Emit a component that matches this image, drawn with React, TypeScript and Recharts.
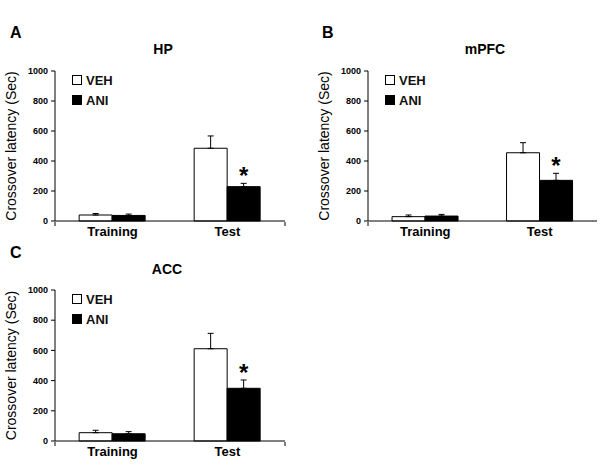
import { BarChart, Bar, XAxis, YAxis, ErrorBar, Legend, LabelList } from "recharts"

// values (sec), mean and upper SEM
const categories = ["Training", "Test"]
const significance = ["", "*"]
const yTicks = [0, 200, 400, 600, 800, 1000]
const seriesOrder = ["VEH", "ANI"]

const hpVeh = [40, 485]
const hpVehSem = [10, 82]
const hpAni = [37, 229]
const hpAniSem = [9, 22]

const mpfcVeh = [29, 455]
const mpfcVehSem = [11, 67]
const mpfcAni = [33, 271]
const mpfcAniSem = [11, 47]

const accVeh = [55, 611]
const accVehSem = [16, 102]
const accAni = [48, 349]
const accAniSem = [14, 55]

const font = '"Liberation Sans", Arial, sans-serif'

function buildRows(veh: number[], vehSem: number[], ani: number[], aniSem: number[]) {
  return categories.map((name, i) => ({
    name,
    veh: veh[i],
    ani: ani[i],
    vehErr: [0, vehSem[i]],
    aniErr: [0, aniSem[i]],
    sig: significance[i],
  }))
}

function LegendBox({ payload }: any) {
  const items = [...(payload || [])].sort(
    (a: any, b: any) => seriesOrder.indexOf(a.value) - seriesOrder.indexOf(b.value)
  )
  return (
    <div style={{ fontFamily: font }}>
      {items.map((p: any) => (
        <div key={p.value} style={{ display: "flex", alignItems: "center", height: 20 }}>
          <span
            style={{
              width: 8,
              height: 8,
              background: p.color,
              border: "1px solid #000",
              marginRight: 4,
            }}
          />
          <span style={{ fontSize: 13, fontWeight: "bold", color: "#111" }}>{p.value}</span>
        </div>
      ))}
    </div>
  )
}

function Panel(props: {
  letter: string
  title: string
  veh: number[]
  vehSem: number[]
  ani: number[]
  aniSem: number[]
  left: number
  top: number
  width: number
  marginTop: number
  marginRight: number
  letterLeft: number
  titleCenter: number
}) {
  const { letter, title, veh, vehSem, ani, aniSem, left, top, width, marginTop, marginRight, letterLeft, titleCenter } = props
  const rows = buildRows(veh, vehSem, ani, aniSem)

  const star = (p: any) => {
    const { x, y, width: w, height: h, value, index } = p
    if (!value) return null
    const errTop = y - (aniSem[index] * h) / ani[index]
    return (
      <text
        x={x + w / 2}
        y={errTop + 1}
        textAnchor="middle"
        fontSize={24}
        fontWeight="bold"
        fontFamily={font}
        fill="#000"
      >
        {value}
      </text>
    )
  }

  return (
    <div style={{ position: "absolute", left, top, width, height: 240 }}>
      <div
        style={{
          position: "absolute",
          left: titleCenter - 60,
          width: 120,
          top: 41,
          textAlign: "center",
          fontSize: 14,
          fontWeight: "bold",
          fontFamily: font,
        }}
      >
        {title}
      </div>
      <div
        style={{
          position: "absolute",
          left: letterLeft,
          top: 24,
          fontSize: 16,
          fontWeight: "bold",
          fontFamily: font,
        }}
      >
        {letter}
      </div>
      <BarChart
        width={width}
        height={240}
        data={rows}
        margin={{ top: marginTop, right: marginRight, bottom: 17, left: 0 }}
        barCategoryGap="21%"
        barGap={0}
      >
        <XAxis
          dataKey="name"
          height={1}
          tickLine={false}
          axisLine={{ stroke: "#000" }}
          tickSize={5}
          tickMargin={1}
          tick={{ fill: "#000", fontSize: 13, fontWeight: "bold", fontFamily: font }}
        />
        <XAxis
          xAxisId="edges"
          type="number"
          domain={[0, 2]}
          ticks={[0, 1, 2]}
          height={1}
          axisLine={false}
          tickLine={{ stroke: "#000" }}
          tickSize={4}
          tickFormatter={() => ""}
        />
        <YAxis
          width={55}
          domain={[0, 1000]}
          ticks={yTicks}
          interval={0}
          axisLine={{ stroke: "#000" }}
          tickLine={{ stroke: "#000" }}
          tickSize={4}
          tickMargin={3}
          tick={{ fill: "#000", fontSize: 9, fontWeight: "bold", fontFamily: font }}
          label={{
            value: "Crossover latency (Sec)",
            angle: -90,
            position: "insideLeft",
            offset: 11,
            textAnchor: "middle",
            style: { textAnchor: "middle", fontSize: 14, fontFamily: font, fill: "#000" },
          }}
        />
        <Legend
          layout="vertical"
          align="center"
          verticalAlign="middle"
          wrapperStyle={{ left: 72, top: marginTop - 1, width: 80 }}
          content={<LegendBox />}
        />
        <Bar dataKey="veh" name="VEH" fill="#fff" stroke="#000" strokeWidth={1} isAnimationActive={false}>
          <ErrorBar dataKey="vehErr" width={3} stroke="#000" strokeWidth={1} direction="y" />
        </Bar>
        <Bar dataKey="ani" name="ANI" fill="#000" stroke="#000" strokeWidth={1} isAnimationActive={false}>
          <ErrorBar dataKey="aniErr" width={3} stroke="#000" strokeWidth={1} direction="y" />
          <LabelList dataKey="sig" content={star} />
        </Bar>
      </BarChart>
    </div>
  )
}

export default function App() {
  return (
    <div
      style={{
        position: "absolute",
        left: 0,
        top: 0,
        width: 600,
        height: 466,
        background: "#fff",
        fontFamily: font,
      }}
    >
      <Panel letter="A" title="HP" veh={hpVeh} vehSem={hpVehSem} ani={hpAni} aniSem={hpAniSem}
        left={0} top={0} width={300} marginTop={71} marginRight={15} letterLeft={10} titleCenter={163} />
      <Panel letter="B" title="mPFC" veh={mpfcVeh} vehSem={mpfcVehSem} ani={mpfcAni} aniSem={mpfcAniSem}
        left={313} top={0} width={287} marginTop={71} marginRight={3} letterLeft={9} titleCenter={172} />
      <Panel letter="C" title="ACC" veh={accVeh} vehSem={accVehSem} ani={accAni} aniSem={accAniSem}
        left={0} top={220} width={300} marginTop={70} marginRight={15} letterLeft={10} titleCenter={167} />
    </div>
  )
}
